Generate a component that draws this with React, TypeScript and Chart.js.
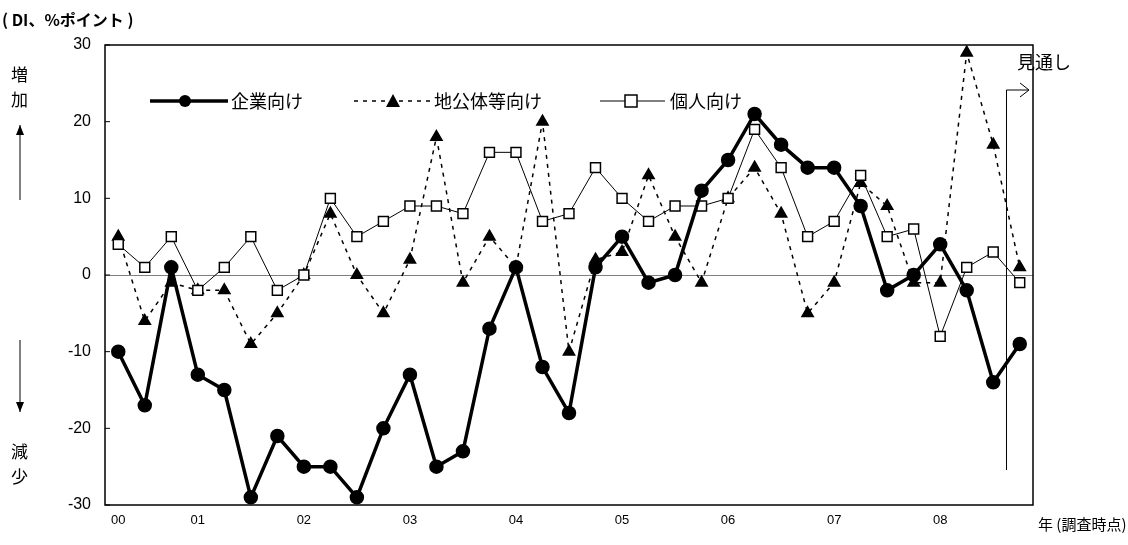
import React, { useEffect, useRef } from 'react';
import { Chart, registerables } from 'chart.js';

Chart.register(...registerables);

const quarterLabels = ['00', '', '', '01', '', '', '', '02', '', '', '', '03', '', '', '', '04', '', '', '', '05', '', '', '', '06', '', '', '', '07', '', '', '', '08', '', '', ''];
const corporate = [-10, -17, 1, -13, -15, -29, -21, -25, -25, -29, -20, -13, -25, -23, -7, 1, -12, -18, 1, 5, -1, 0, 11, 15, 21, 17, 14, 14, 9, -2, 0, 4, -2, -14, -9];
const localGov = [5, -6, -1, -2, -2, -9, -5, 0, 8, 0, -5, 2, 18, -1, 5, 1, 20, -10, 2, 3, 13, 5, -1, 10, 14, 8, -5, -1, 12, 9, -1, -1, 29, 17, 1];
const personal = [4, 1, 5, -2, 1, 5, -2, 0, 10, 5, 7, 9, 9, 8, 16, 16, 7, 8, 14, 10, 7, 9, 9, 10, 19, 14, 5, 7, 13, 5, 6, -8, 1, 3, -1];
const yTicks = [-30, -20, -10, 0, 10, 20, 30];

const JP = '"Noto Sans CJK JP", sans-serif';
const NUM = '"Liberation Sans", Arial, sans-serif';

const extras = {
  id: 'extras',
  afterDraw(chart: any) {
    const ctx = chart.ctx;
    const y = chart.scales.y;
    const x = chart.scales.x;
    const area = chart.chartArea;
    ctx.save();
    ctx.strokeStyle = '#000';
    ctx.fillStyle = '#000';
    // inward ticks
    ctx.lineWidth = 1;
    yTicks.forEach((v) => {
      const py = y.getPixelForValue(v);
      ctx.beginPath();
      ctx.moveTo(area.left, py);
      ctx.lineTo(area.left + 5, py);
      ctx.stroke();
    });
    // border
    ctx.lineWidth = 1.5;
    ctx.strokeRect(area.left, area.top, area.right - area.left, area.bottom - area.top);

    ctx.font = `bold 16px ${JP}`;
    ctx.textBaseline = 'middle';
    ctx.textAlign = 'left';
    ctx.fillText('( DI、%ポイント )', 2, 20);
    ctx.font = `17px ${JP}`;
    ctx.fillText('増', 11, 75);
    ctx.fillText('加', 11, 100);
    ctx.fillText('減', 11, 452);
    ctx.fillText('少', 11, 477);
    const arrow = (x0: number, y0: number, y1: number) => {
      ctx.lineWidth = 1;
      ctx.beginPath();
      ctx.moveTo(x0, y0);
      ctx.lineTo(x0, y1);
      ctx.stroke();
      const d = y1 < y0 ? 1 : -1;
      ctx.beginPath();
      ctx.moveTo(x0, y1);
      ctx.lineTo(x0 - 4, y1 + d * 10);
      ctx.lineTo(x0 + 4, y1 + d * 10);
      ctx.closePath();
      ctx.fill();
    };
    arrow(20, 200, 125);
    arrow(20, 340, 412);

    ctx.font = `15px ${JP}`;
    ctx.fillText('年 (調査時点)', 1038, 524);
    ctx.font = `18px ${JP}`;
    ctx.fillText('見通し', 1017, 62);

    // forecast marker
    const fx = (x.getPixelForValue(33) + x.getPixelForValue(34)) / 2;
    ctx.lineWidth = 1;
    ctx.beginPath();
    ctx.moveTo(fx, 470);
    ctx.lineTo(fx, 90);
    ctx.lineTo(1029, 90);
    ctx.moveTo(1020, 83);
    ctx.lineTo(1029, 90);
    ctx.lineTo(1020, 97);
    ctx.stroke();

    // legend
    const ly = 101;
    ctx.font = `18px ${JP}`;
    ctx.lineWidth = 3.5;
    ctx.setLineDash([]);
    ctx.beginPath();
    ctx.moveTo(150, ly);
    ctx.lineTo(228, ly);
    ctx.stroke();
    ctx.beginPath();
    ctx.arc(185, ly, 6, 0, Math.PI * 2);
    ctx.fill();
    ctx.fillText('企業向け', 231, ly);

    ctx.lineWidth = 1.5;
    ctx.setLineDash([4, 5]);
    ctx.beginPath();
    ctx.moveTo(354, ly);
    ctx.lineTo(430, ly);
    ctx.stroke();
    ctx.setLineDash([]);
    ctx.beginPath();
    ctx.moveTo(386, ly + 6);
    ctx.lineTo(400, ly + 6);
    ctx.lineTo(393, ly - 7);
    ctx.closePath();
    ctx.fill();
    ctx.fillText('地公体等向け', 434, ly);

    ctx.lineWidth = 1;
    ctx.beginPath();
    ctx.moveTo(600, ly);
    ctx.lineTo(665, ly);
    ctx.stroke();
    ctx.fillStyle = '#fff';
    ctx.fillRect(625, ly - 6, 12, 12);
    ctx.lineWidth = 1.5;
    ctx.strokeRect(625, ly - 6, 12, 12);
    ctx.fillStyle = '#000';
    ctx.fillText('個人向け', 670, ly);
    ctx.restore();
  },
};

export default function App() {
  const ref = useRef<HTMLCanvasElement>(null);

  useEffect(() => {
    document.body.style.margin = '0';
    const chart = new Chart(ref.current!, {
      type: 'line',
      data: {
        labels: quarterLabels,
        datasets: [
          {
            label: '地公体等向け',
            data: localGov,
            borderColor: '#000',
            backgroundColor: '#000',
            borderWidth: 1.5,
            borderDash: [4, 5],
            pointStyle: 'triangle',
            pointRadius: 6.5,
            order: 3,
          },
          {
            label: '個人向け',
            data: personal,
            borderColor: '#000',
            backgroundColor: '#fff',
            borderWidth: 1,
            pointStyle: 'rect',
            pointRadius: 7,
            pointBorderWidth: 1.5,
            order: 2,
          },
          {
            label: '企業向け',
            data: corporate,
            borderColor: '#000',
            backgroundColor: '#000',
            borderWidth: 3.5,
            pointStyle: 'circle',
            pointRadius: 5.5,
            order: 1,
          },
        ],
      },
      options: {
        animation: false,
        responsive: false,
        layout: { padding: { left: 0, top: 45, right: 95, bottom: 0 } },
        plugins: { legend: { display: false }, tooltip: { enabled: false } },
        scales: {
          x: {
            offset: true,
            grid: { display: false, drawTicks: false },
            border: { display: false },
            ticks: {
              autoSkip: false,
              maxRotation: 0,
              color: '#000',
              padding: 8,
              font: { family: NUM, size: 13 },
            },
            afterFit: (s: any) => {
              s.height = 40;
            },
          },
          y: {
            min: -30,
            max: 30,
            grid: {
              drawTicks: false,
              color: (c: any) => (c.tick && c.tick.value === 0 ? '#808080' : 'rgba(0,0,0,0)'),
            },
            border: { display: false },
            ticks: {
              stepSize: 10,
              color: '#000',
              padding: 14,
              font: { family: NUM, size: 16 },
            },
            afterFit: (s: any) => {
              s.width = 105;
            },
          },
        },
      },
      plugins: [extras],
    });
    return () => chart.destroy();
  }, []);

  return <canvas ref={ref} width={1128} height={545} style={{ display: 'block' }} />;
}
